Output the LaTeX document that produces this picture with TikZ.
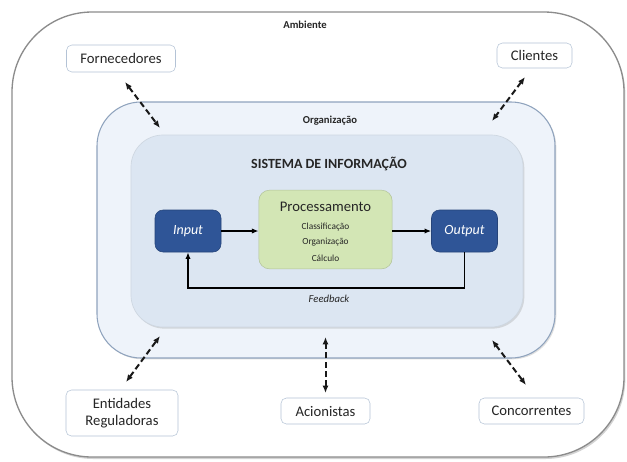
\documentclass[tikz,border=0pt]{standalone}
\usepackage{fontspec}
\setmainfont{Carlito}
\usetikzlibrary{arrows.meta,shadows}
\definecolor{envline}{HTML}{8C8C8C}
\definecolor{orgfill}{HTML}{EEF3FA}
\definecolor{orgline}{HTML}{8FA3BD}
\definecolor{sifill}{HTML}{DCE6F2}
\definecolor{darkblue}{HTML}{2F5597}
\definecolor{procgreen}{HTML}{D3E6B5}
\definecolor{boxline}{HTML}{B4C3D6}
\definecolor{txt}{HTML}{262626}
\tikzset{
  actor/.style={draw=boxline, fill=white, rounded corners=4pt, align=center,
    font=\fontsize{11}{13}\selectfont, text=txt, inner sep=2pt},
  iobox/.style={draw=darkblue!80!black, fill=darkblue, rounded corners=6pt,
    minimum width=49.5pt, minimum height=31.5pt, text=white,
    font=\fontsize{10.5}{12}\selectfont\itshape},
  flow/.style={-{Latex[length=5pt,width=4pt]}, line width=1.2pt, black},
  relation/.style={{Latex[length=5.5pt,width=4.5pt]}-{Latex[length=5.5pt,width=4.5pt]},
    line width=1.5pt, dash pattern=on 4.5pt off 2.5pt, black!90},
  caption/.style={font=\fontsize{8}{10}\selectfont\bfseries, text=txt}
}
\begin{document}
\begin{tikzpicture}[x=0.75pt,y=-0.75pt]
\useasboundingbox (0,0) rectangle (627,461);
% environment
\draw[envline, line width=1pt, fill=white, rounded corners=60pt,
  drop shadow={opacity=0.35, shadow xshift=1pt, shadow yshift=-1.5pt}]
  (12,12) rectangle (624,457);
\node[caption] (amb) at (305,25) {Ambiente};
% organisation
\draw[orgline, line width=0.8pt, fill=orgfill, rounded corners=33pt,
  drop shadow={opacity=0.25, shadow xshift=1pt, shadow yshift=-1pt}]
  (97,102) rectangle (555,358);
\node[caption] (org) at (330,121) {Organização};
% information system
\draw[draw=sifill!85!gray, line width=0.5pt, fill=sifill, rounded corners=24pt,
  drop shadow={opacity=0.25, shadow xshift=1pt, shadow yshift=-1.2pt}]
  (131,135) rectangle (523,327);
\node[font=\fontsize{10.5}{12}\selectfont\bfseries, text=txt] (si) at (329,164) {SISTEMA DE INFORMAÇÃO};
% processing chain
\node[iobox] (in) at (188,231) {Input};
\node[draw=procgreen!85!black, fill=procgreen, rounded corners=8pt,
  minimum width=100pt, minimum height=59pt] (proc) at (325.5,229.5) {};
\node[font=\fontsize{11}{13}\selectfont, text=txt] (proct) at (325.5,207) {Processamento};
\node[font=\fontsize{7}{9}\selectfont, text=txt] (p1) at (325.5,227) {Classificação};
\node[font=\fontsize{7}{9}\selectfont, text=txt] (p2) at (325.5,242) {Organização};
\node[font=\fontsize{7}{9}\selectfont, text=txt] (p3) at (325.5,258) {Cálculo};
\node[iobox] (out) at (464.5,231) {Output};
\draw[flow] (in.east) -- (in.east -| proc.west);
\draw[flow] (proc.east |- out.west) -- (out.west);
\coordinate (fbr) at (464.5,288);
\coordinate (fbl) at (188,288);
\draw[flow] (out.south) -- (fbr) -- (fbl) -- (in.south);
\node[font=\fontsize{8}{10}\selectfont\itshape, text=txt] (fb) at (329,299) {Feedback};
% external actors
\node[actor, minimum width=81.75pt, minimum height=20.25pt] (forn) at (121,58.5) {Fornecedores};
\node[actor, minimum width=56.25pt, minimum height=18.75pt] (cli) at (534.5,55.5) {Clientes};
\node[actor, minimum width=84pt, minimum height=34.5pt] (ent) at (122,413) {Entidades\\Reguladoras};
\node[actor, minimum width=66.75pt, minimum height=19.5pt] (aci) at (325.5,411) {Acionistas};
\node[actor, minimum width=78.75pt, minimum height=19.5pt] (con) at (531.5,411) {Concorrentes};
% relations to the organisation
\coordinate (a1) at (125,82);   \coordinate (b1) at (160,128);
\coordinate (a2) at (525,77);   \coordinate (b2) at (492,121);
\coordinate (a3) at (126,382);  \coordinate (b3) at (160,336);
\coordinate (a4) at (325.5,393); \coordinate (b4) at (325.5,337);
\coordinate (a5) at (526,385);  \coordinate (b5) at (492,340);
\draw[relation] (a1) -- (b1);
\draw[relation] (a2) -- (b2);
\draw[relation] (a3) -- (b3);
\draw[relation] (a4) -- (b4);
\draw[relation] (a5) -- (b5);
\end{tikzpicture}
\end{document}
